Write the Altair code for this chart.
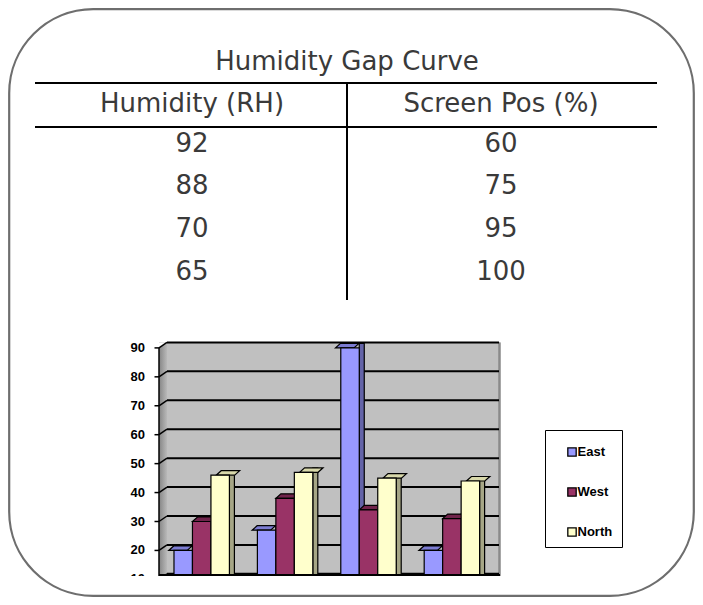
import altair as alt
import pandas as pd

# ---------------- data ----------------
table_title = "Humidity Gap Curve"
table_headers = ["Humidity (RH)", "Screen Pos (%)"]
humidity_rh = [92, 88, 70, 65]
screen_pos = [60, 75, 95, 100]

groups = ["1st Qtr", "2nd Qtr", "3rd Qtr", "4th Qtr"]
series = ["East", "West", "North"]
east = [20, 27, 90, 20]
west = [30, 38, 34, 31]
north = [46, 47, 45, 44]
y_ticks = [10, 20, 30, 40, 50, 60, 70, 80, 90]

front_colors = ["#9999FF", "#993366", "#FFFFCC"]
top_colors = ["#7C7CD2", "#70244B", "#D8D8AA"]
side_colors = ["#6464A8", "#66213F", "#A6A686"]

# ---------------- tables built from the arrays ----------------
bars = pd.DataFrame(
    [{"group": g, "series": s, "value": v}
     for s, vals in zip(series, [east, west, north])
     for g, v in zip(groups, vals)]
)
ticks = pd.DataFrame({"t": y_ticks})
legend_df = pd.DataFrame({"series": series})
cells = pd.DataFrame(
    [{"col": table_headers[0], "row": i, "val": str(v)} for i, v in enumerate(humidity_rh)]
    + [{"col": table_headers[1], "row": i, "val": str(v)} for i, v in enumerate(screen_pos)]
)
heads = pd.DataFrame({"col": table_headers})
one = pd.DataFrame({"k": [0]})

W, H = 687, 589
Y0, Y90 = 600.3, 339.9          # pixel rows of value 0 and 90 (front plane)
DEPTH_Y = 5.5                   # back-wall shift
BAR_W = 18.47
SX, SY = 5, 4.5                 # bar depth

def yscale(shift=0.0):
    return alt.Scale(domain=[0, 90], range=[Y0 + shift, Y90 + shift], nice=False, zero=True)

def xscale(shift=0.0):
    return alt.Scale(domain=groups, range=[152 + shift, 485.6 + shift], paddingInner=0, paddingOuter=0)

xoff_scale = alt.Scale(domain=series, range=[0, 83.4], paddingInner=0, paddingOuter=0.757)

def fill_scale(cols):
    return alt.Scale(domain=series, range=cols)

deco = alt.Chart(one)
TXT = "#3a3a3a"
TFONT = "DejaVu Sans"
TSIZE = 26

layers = []

# back wall & left wall
layers.append(deco.mark_rect(fill="#C0C0C0").encode(
    x=alt.value(159), x2=alt.value(492), y=alt.value(Y90 - DEPTH_Y), y2=alt.value(H)))
grad = alt.LinearGradient(gradient="linear",
                          stops=[alt.GradientStop(color="#858585", offset=0),
                                 alt.GradientStop(color="#b9b9b9", offset=1)],
                          x1=0, x2=1, y1=0, y2=0)
layers.append(deco.mark_rect(fill=grad).encode(
    x=alt.value(151), x2=alt.value(159), y=alt.value(Y90 - DEPTH_Y), y2=alt.value(H)))
layers.append(deco.mark_point(shape="M0,0L8,0L0,5.5Z", size=4, filled=True, fill="white",
                              strokeWidth=0, opacity=1).encode(
    x=alt.value(151), y=alt.value(Y90 - DEPTH_Y)))
layers.append(deco.mark_rule(stroke="#8a8a8a", strokeWidth=2.5).encode(
    x=alt.value(491.5), y=alt.value(Y90 - DEPTH_Y), y2=alt.value(H)))

# gridlines on the back wall
layers.append(alt.Chart(ticks).mark_rule(stroke="black", strokeWidth=2).encode(
    x=alt.value(159), x2=alt.value(491),
    y=alt.Y("t:Q", scale=yscale(-DEPTH_Y), axis=None)))
layers.append(alt.Chart(ticks).mark_point(shape="M0,0L8,-5.5", size=4, filled=False,
                                          stroke="black", strokeWidth=1.5, opacity=1).encode(
    x=alt.value(151), y=alt.Y("t:Q", scale=yscale(), axis=None)))
# axis
layers.append(deco.mark_rule(stroke="black", strokeWidth=1.5).encode(
    x=alt.value(151), y=alt.value(Y90), y2=alt.value(H)))
layers.append(alt.Chart(ticks).mark_rule(stroke="black", strokeWidth=1.5).encode(
    x=alt.value(146.5), x2=alt.value(151),
    y=alt.Y("t:Q", scale=yscale(), axis=None)))
layers.append(alt.Chart(ticks).mark_text(align="right", baseline="middle", font="Liberation Sans",
                                         fontWeight="bold", fontSize=13, color="black").encode(
    x=alt.value(137), y=alt.Y("t:Q", scale=yscale(), axis=None), text="t:Q"))

# bars: side faces, top faces, front faces
layers.append(alt.Chart(bars).mark_bar(width=SX, stroke="black", strokeWidth=1.2).encode(
    x=alt.X("group:N", scale=xscale(BAR_W / 2 + SX / 2), axis=None),
    xOffset=alt.XOffset("series:N", scale=xoff_scale),
    y=alt.Y("value:Q", scale=yscale(-SY), axis=None),
    fill=alt.Fill("series:N", scale=fill_scale(side_colors), legend=None)))
top_path = f"M{-BAR_W/2},0L{BAR_W/2},0L{BAR_W/2+SX},{-SY}L{-BAR_W/2+SX},{-SY}Z"
layers.append(alt.Chart(bars).mark_point(shape=top_path, size=4, filled=True, opacity=1,
                                         stroke="black", strokeWidth=1.2).encode(
    x=alt.X("group:N", scale=xscale(), axis=None),
    xOffset=alt.XOffset("series:N", scale=xoff_scale),
    y=alt.Y("value:Q", scale=yscale(), axis=None),
    fill=alt.Fill("series:N", scale=fill_scale(top_colors), legend=None)))
layers.append(alt.Chart(bars).mark_bar(stroke="black", strokeWidth=1.2).encode(
    x=alt.X("group:N", scale=xscale(), axis=None),
    xOffset=alt.XOffset("series:N", scale=xoff_scale),
    y=alt.Y("value:Q", scale=yscale(), axis=None),
    fill=alt.Fill("series:N", scale=fill_scale(front_colors), legend=None)))

# crop of the embedded chart
layers.append(deco.mark_rule(stroke="black", strokeWidth=2).encode(
    x=alt.value(151), x2=alt.value(492), y=alt.value(567)))
layers.append(deco.mark_rect(fill="white").encode(
    x=alt.value(0), x2=alt.value(W), y=alt.value(568), y2=alt.value(H)))

# legend
layers.append(deco.mark_rect(fill="white", stroke="black", strokeWidth=1).encode(
    x=alt.value(537.5), x2=alt.value(614.5), y=alt.value(422.5), y2=alt.value(539.5)))
leg_y = alt.Y("series:N", scale=alt.Scale(domain=series, range=[444, 524], padding=0), axis=None)
layers.append(alt.Chart(legend_df).mark_square(size=70, opacity=1, stroke="black", strokeWidth=1.3).encode(
    x=alt.value(564), y=leg_y,
    fill=alt.Fill("series:N", scale=fill_scale(front_colors), legend=None)))
layers.append(alt.Chart(legend_df).mark_text(align="left", baseline="middle", font="Liberation Sans",
                                             fontWeight="bold", fontSize=13, color="black").encode(
    x=alt.value(569.5), y=leg_y, text="series:N"))

# table
layers.append(deco.mark_text(text=table_title, align="center", baseline="alphabetic",
                             font=TFONT, fontSize=TSIZE, color=TXT).encode(
    x=alt.value(339), y=alt.value(62)))
for yy in (75, 119):
    layers.append(deco.mark_rule(stroke="black", strokeWidth=2).encode(
        x=alt.value(27), x2=alt.value(649), y=alt.value(yy)))
layers.append(deco.mark_rule(stroke="black", strokeWidth=2).encode(
    x=alt.value(339), y=alt.value(75), y2=alt.value(292)))
col_x = alt.X("col:N", scale=alt.Scale(domain=table_headers, range=[184, 493], padding=0), axis=None)
layers.append(alt.Chart(heads).mark_text(align="center", baseline="alphabetic", font=TFONT,
                                         fontSize=TSIZE, color=TXT).encode(
    x=col_x, y=alt.value(103.7), text="col:N"))
layers.append(alt.Chart(cells).mark_text(align="center", baseline="alphabetic", font=TFONT,
                                         fontSize=TSIZE, color=TXT).encode(
    x=col_x,
    y=alt.Y("row:O", scale=alt.Scale(domain=[0, 1, 2, 3], range=[143.7, 272], padding=0), axis=None),
    text="val:N"))

# rounded frame
layers.append(deco.mark_rect(cornerRadius=84, fill="white", fillOpacity=0, stroke="#6e6e6e",
                             strokeWidth=2.2).encode(
    x=alt.value(1.2), x2=alt.value(W - 1.2), y=alt.value(1.2), y2=alt.value(H - 1.2)))

chart = alt.layer(*layers).resolve_scale(
    x="independent", y="independent", xOffset="independent", fill="independent"
).properties(
    width=W, height=H, padding=0, background="white",
    autosize=alt.AutoSizeParams(type="none"),
).configure_view(strokeWidth=0)

chart.save("out.html", embed_options={"renderer": "svg", "actions": False})
